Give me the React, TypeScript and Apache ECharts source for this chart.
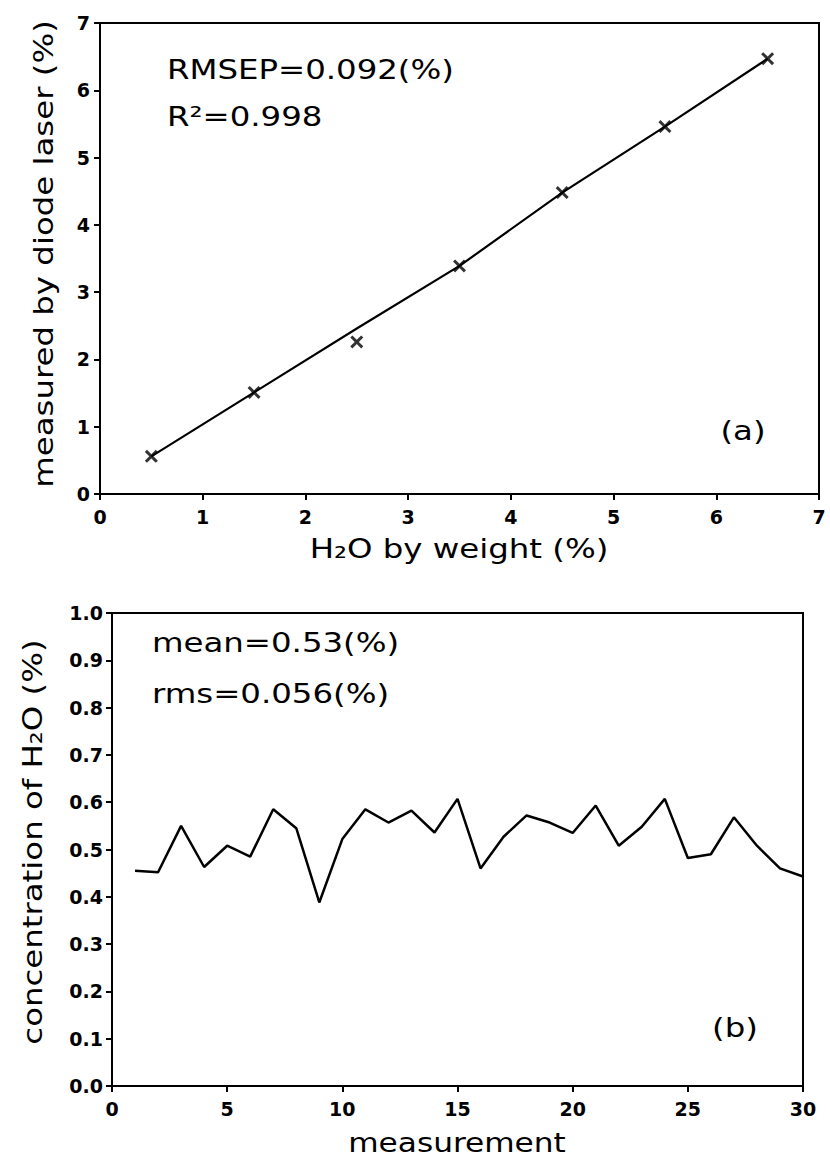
import React, { useEffect, useRef } from "react";
import * as echarts from "echarts";

// Panel (a): calibration
const weightPct = [0.5, 1.5, 2.5, 3.5, 4.5, 5.5, 6.5];
const measuredPct = [0.56, 1.51, 2.26, 3.39, 4.48, 5.46, 6.47];
const fittedPct = [0.56, 1.51, 2.46, 3.39, 4.48, 5.46, 6.47];

// Panel (b): repeated measurements
const measurementNo = [
  1, 2, 3, 4, 5, 6, 7, 8, 9, 10, 11, 12, 13, 14, 15, 16, 17, 18, 19, 20, 21, 22, 23, 24, 25, 26, 27, 28, 29, 30,
];
const concentration = [
  0.455, 0.452, 0.55, 0.463, 0.508, 0.485, 0.585, 0.545, 0.388, 0.522, 0.585, 0.557, 0.582, 0.536, 0.607, 0.46,
  0.527, 0.572, 0.557, 0.535, 0.593, 0.508, 0.548, 0.607, 0.482, 0.49, 0.568, 0.508, 0.46, 0.443,
];

const FONT = "DejaVu Sans";
const SX = 1.2;

const crossPath =
  "path://M0,1.6 L1.6,0 L5,3.4 L8.4,0 L10,1.6 L6.6,5 L10,8.4 L8.4,10 L5,6.6 L1.6,10 L0,8.4 L3.4,5 Z";

export default function App() {
  const ref = useRef<HTMLDivElement>(null);
  useEffect(() => {
    if (!ref.current) return;
    const chart = echarts.init(ref.current, undefined, { renderer: "svg" });
    const axisCommon = {
      axisLine: { show: true, lineStyle: { color: "#000", width: 2 } },
      axisTick: { show: true, inside: false, length: 6, lineStyle: { color: "#000", width: 2 } },
      splitLine: { show: false },
    };
    const labelStyle = { color: "#000", fontFamily: FONT, fontSize: 19, fontWeight: "bold" as const };
    const txt = (text: string, x: number, y: number, size: number, align: string, rot = 0) => ({
      type: "text",
      x,
      y,
      rotation: rot,
      scaleX: SX,
      style: {
        text,
        fill: "#000",
        font: `${size}px "${FONT}"`,
        textAlign: align,
        textVerticalAlign: "middle",
      },
    });
    chart.setOption({
      animation: false,
      grid: [
        { left: 100, top: 23, width: 719, height: 471, show: true, borderColor: "#000", borderWidth: 2 },
        { left: 112, top: 613, width: 691, height: 473, show: true, borderColor: "#000", borderWidth: 2 },
      ],
      xAxis: [
        {
          ...axisCommon,
          type: "value",
          gridIndex: 0,
          min: 0,
          max: 7,
          interval: 1,
          axisLabel: { ...labelStyle, margin: 13 },
        },
        {
          ...axisCommon,
          type: "value",
          gridIndex: 1,
          min: 0,
          max: 30,
          interval: 5,
          axisLabel: { ...labelStyle, margin: 13 },
        },
      ],
      yAxis: [
        {
          ...axisCommon,
          type: "value",
          gridIndex: 0,
          min: 0,
          max: 7,
          interval: 1,
          axisLabel: { ...labelStyle, margin: 10 },
        },
        {
          ...axisCommon,
          type: "value",
          gridIndex: 1,
          min: 0,
          max: 1,
          interval: 0.1,
          axisLabel: { ...labelStyle, margin: 9, formatter: (v: number) => v.toFixed(1) },
        },
      ],
      series: [
        {
          type: "line",
          xAxisIndex: 0,
          yAxisIndex: 0,
          data: weightPct.map((x, i) => [x, fittedPct[i]]),
          showSymbol: false,
          lineStyle: { color: "#000", width: 2.2 },
        },
        {
          type: "scatter",
          xAxisIndex: 0,
          yAxisIndex: 0,
          data: weightPct.map((x, i) => [x, measuredPct[i]]),
          symbol: crossPath,
          symbolSize: 13,
          itemStyle: { color: "#000" },
        },
        {
          type: "line",
          xAxisIndex: 1,
          yAxisIndex: 1,
          data: measurementNo.map((x, i) => [x, concentration[i]]),
          showSymbol: false,
          lineStyle: { color: "#000", width: 2.5 },
        },
      ],
      graphic: [
        txt("RMSEP=0.092(%)", 167, 69, 27, "left"),
        txt("R²=0.998", 167, 116, 27, "left"),
        txt("(a)", 743, 430, 27, "center"),
        txt("H₂O by weight (%)", 459, 548, 27, "center"),
        txt("measured by diode laser (%)", 43, 254, 27, "center", Math.PI / 2),
        txt("mean=0.53(%)", 152, 642, 27, "left"),
        txt("rms=0.056(%)", 152, 693, 27, "left"),
        txt("(b)", 735, 1027, 27, "center"),
        txt("measurement", 457, 1143, 26, "center"),
        txt("concentration of H₂O (%)", 32, 842, 27, "center", Math.PI / 2),
      ],
    });
    return () => chart.dispose();
  }, []);
  return (
    <div
      ref={ref}
      style={{ position: "absolute", left: 0, top: 0, width: 830, height: 1163, background: "#fff" }}
    />
  );
}
